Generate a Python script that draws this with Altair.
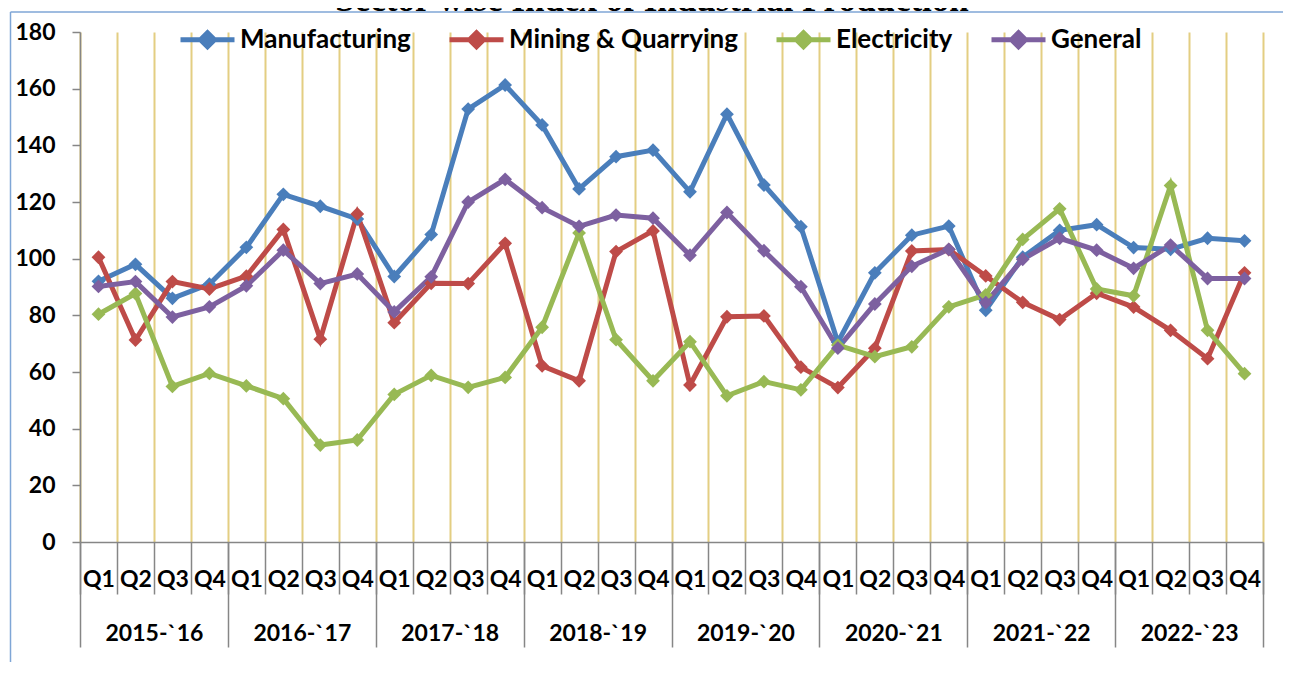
import json
import altair as alt
import pandas as pd

title_text = "Sector wise Index of Industrial Production"
quarters = ["Q1", "Q2", "Q3", "Q4"]
years = ["2015-`16", "2016-`17", "2017-`18", "2018-`19",
         "2019-`20", "2020-`21", "2021-`22", "2022-`23"]
series_names = ["Manufacturing", "Mining & Quarrying", "Electricity", "General"]

manufacturing = [92, 98, 86, 91, 104, 122.7, 118.5, 114, 93.7, 108.5, 152.8, 161.3,
                 147.2, 124.6, 136, 138.3, 123.6, 151, 126, 111.3, 70.5, 95, 108.3, 111.5,
                 81.8, 100.5, 110, 112, 103.9, 103.3, 107.2, 106.3]
mining = [100.5, 71.3, 91.9, 89.3, 93.8, 110.3, 71.6, 115.8, 77.4, 91.3, 91.2, 105.4,
          62.2, 56.9, 102.5, 109.8, 55.4, 79.5, 79.8, 61.7, 54.5, 68.4, 102.7, 103.2,
          93.9, 84.6, 78.5, 87.8, 82.9, 74.7, 64.7, 95]
electricity = [80.4, 87.7, 54.9, 59.5, 55.1, 50.6, 34.2, 36, 52.1, 58.8, 54.6, 58.1,
               75.8, 109.1, 71.4, 56.9, 70.7, 51.6, 56.6, 53.7, 69.5, 65.4, 68.9, 83,
               87.2, 106.8, 117.6, 89.3, 86.9, 125.8, 74.7, 59.4]
general = [90.2, 91.9, 79.4, 83, 90.4, 103, 91.2, 94.6, 81.2, 93.6, 120, 128,
           118, 111.4, 115.4, 114.3, 101.2, 116.3, 102.8, 90.1, 68.4, 84, 97.3, 103.3,
           84.5, 99.8, 107.2, 103, 96.6, 104.8, 93, 93]
colors = ["#4A7EBB", "#BE4B48", "#98B954", "#7D60A0"]

rows = []
for name, vals in zip(series_names, [manufacturing, mining, electricity, general]):
    for i, v in enumerate(vals):
        rows.append({"series": name, "pos": i + 0.5, "value": v})
df = pd.DataFrame(rows)

n = len(years) * len(quarters)
FONT = "Lato"
GRAY = "#868686"

xscale = alt.Scale(domain=[0, n], nice=False, zero=False)
yscale = alt.Scale(domain=[0, 180], nice=False)
y_axis = alt.Axis(values=list(range(0, 181, 20)), grid=False, labelFont=FONT,
                  labelFontSize=23, labelFontWeight="bold", labelColor="black",
                  tickColor=GRAY, tickSize=8, tickWidth=1.5, domainColor=GRAY,
                  domainWidth=1.5, labelPadding=17, title=None)
y_enc = alt.Y("value:Q", scale=yscale, axis=y_axis)

ax_grid = alt.Axis(orient="bottom", values=list(range(n + 1)), grid=True,
                   gridColor="#E3CE82", gridWidth=2, labels=False, ticks=True,
                   tickSize=52, tickColor=GRAY, tickWidth=1.5, domainColor=GRAY,
                   domainWidth=1.5, title=None)
ax_year_ticks = alt.Axis(orient="bottom", values=list(range(0, n + 1, 4)), grid=False,
                         labels=False, ticks=True, tickSize=105, tickColor=GRAY,
                         tickWidth=1.5, domain=False, title=None)
ax_q = alt.Axis(orient="bottom", values=[i + 0.5 for i in range(n)],
                labelExpr=f"{json.dumps(quarters)}[floor(datum.value) % 4]",
                ticks=False, domain=False, grid=False, labelPadding=26,
                labelFont=FONT, labelFontSize=23, labelFontWeight="bold",
                labelColor="black", labelFlush=False, labelOverlap=False, title=None)
ax_year = alt.Axis(orient="bottom", values=[4 * k + 2 for k in range(len(years))],
                   labelExpr=f"{json.dumps(years)}[floor(datum.value / 4)]",
                   ticks=False, domain=False, grid=False, labelPadding=80,
                   labelFont=FONT, labelFontSize=23, labelFontWeight="bold",
                   labelColor="black", labelFlush=False, labelOverlap=False, title=None)

legend_path = ("M-1,0L1,0M0,-0.26L0.26,0L0,0.26L-0.26,0Z"
               "M0,-0.12L0.12,0L0,0.12L-0.12,0Z")
legend = alt.Legend(orient="none", legendX=98, legendY=-22, direction="horizontal",
                    columns=4, title=None, symbolType=legend_path, symbolSize=2916,
                    symbolStrokeWidth=5, labelFont=FONT, labelFontSize=26,
                    labelFontWeight="bold", labelColor="black", columnPadding=28,
                    labelOffset=3, padding=0, labelLimit=400)

lines = alt.Chart(df).mark_line(
    strokeWidth=5,
    point=alt.OverlayMarkDef(shape="diamond", size=190, filled=True, opacity=1),
).encode(
    x=alt.X("pos:Q", scale=xscale, axis=ax_grid),
    y=y_enc,
    color=alt.Color("series:N", scale=alt.Scale(domain=series_names, range=colors),
                    legend=legend),
)

def ghost(axis):
    return alt.Chart(df).mark_point(opacity=0).encode(
        x=alt.X("pos:Q", scale=xscale, axis=axis), y=y_enc)

one = pd.DataFrame({"k": [0]})
border_left = alt.Chart(one).mark_rule(color="#7FA6D6", strokeWidth=1.5).encode(
    x=alt.value(-69.5), y=alt.value(-20), y2=alt.value(700))
border_top = alt.Chart(one).mark_rule(color="#7FA6D6", strokeWidth=1.5).encode(
    x=alt.value(-69.5), x2=alt.value(1300), y=alt.value(-20))
title_mark = alt.Chart(one).mark_text(
    font="Liberation Serif", fontSize=35, fontWeight="bold", color="black",
    align="center", baseline="alphabetic",
).encode(x=alt.value(572), y=alt.value(-21), text=alt.value(title_text))

chart = alt.layer(
    border_left, border_top, title_mark, lines,
    ghost(ax_year_ticks), ghost(ax_q), ghost(ax_year),
).resolve_axis(x="independent").properties(
    width=1183, height=510,
    autosize=alt.AutoSizeParams(type="none"),
    padding={"left": 72, "top": 24, "right": 20, "bottom": 120},
).configure_view(stroke=None)

chart.save("out.html", embed_options={"renderer": "svg", "actions": False})
